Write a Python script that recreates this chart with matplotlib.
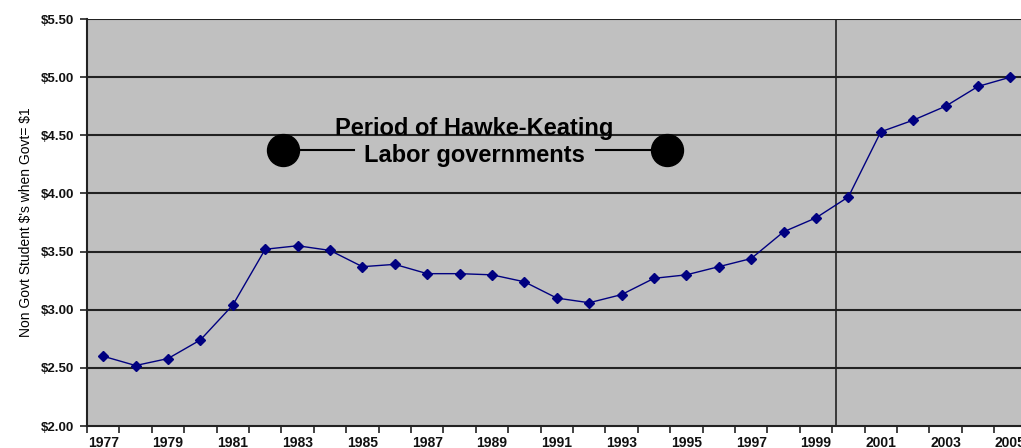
import numpy as np
import matplotlib.pyplot as plt
from matplotlib import font_manager

years = list(range(1977, 2006))
values = [2.60, 2.52, 2.58, 2.74, 3.04, 3.52, 3.55, 3.51, 3.37, 3.39,
          3.31, 3.31, 3.30, 3.24, 3.10, 3.06, 3.13, 3.27, 3.30, 3.37,
          3.44, 3.67, 3.79, 3.97, 4.53, 4.63, 4.75, 4.92, 5.00]
yticks = [2.00, 2.50, 3.00, 3.50, 4.00, 4.50, 5.00, 5.50]

names = {f.name for f in font_manager.fontManager.ttflist}
narrow = 'Liberation Sans Narrow' if 'Liberation Sans Narrow' in names else 'Liberation Sans'

fig = plt.figure(figsize=(10.21, 4.48), dpi=100)
ax = fig.add_axes([87/1021, 22/448, 939.6/1021, 407/448])
ax.set_facecolor('#c0c0c0')

x = np.arange(len(years))
for v in yticks[1:]:
    ax.axhline(v, color='#222222', lw=1.5, zorder=1)
ax.axvline(22.62, color='#222222', lw=1.2, zorder=1)

ax.plot(x, values, color='#000080', lw=1.0, marker='D', markersize=5,
        markerfacecolor='#000080', markeredgecolor='#000080', zorder=3)

ax.set_xlim(-0.5, len(years) - 0.5)
ax.set_ylim(2.0, 5.5)

# ticks between categories, labels on every other category
ax.set_xticks(np.arange(-0.5, len(years), 1.0))
ax.set_xticklabels([])
ax.set_xticks(x[::2], minor=True)
ax.set_xticklabels([str(y) for y in years[::2]], minor=True,
                   fontsize=10, fontweight='bold', family='Liberation Sans', color='#111111')
ax.tick_params(axis='x', which='major', length=5, width=1.2, direction='out', color='#222222')
ax.tick_params(axis='x', which='minor', length=0, pad=7)

ax.set_yticks(yticks)
ax.set_yticklabels(['$%.2f' % v for v in yticks], fontsize=9.5, fontweight='bold',
                   family='Liberation Sans', color='#111111')
ax.tick_params(axis='y', length=5, width=1.2, direction='out', color='#222222', pad=4)

ax.set_ylabel("Non Govt Student \\$'s when Govt= \\$1", family=narrow, fontsize=10, labelpad=6)

for s in ['top', 'right']:
    ax.spines[s].set_visible(False)
for s in ['left', 'bottom']:
    ax.spines[s].set_color('#222222')
    ax.spines[s].set_linewidth(1.5)

# Hawke-Keating period annotation
ya = 4.374
ax.plot([5.55, 7.75], [ya, ya], color='black', lw=1.5, zorder=4)
ax.plot([15.2, 17.4], [ya, ya], color='black', lw=1.5, zorder=4)
ax.plot([5.55, 17.4], [ya, ya], 'o', color='black', markersize=23, zorder=5)
ax.text(11.45, 4.555, 'Period of Hawke-Keating', ha='center', va='center',
        fontsize=17, fontweight='bold', family='Liberation Sans', zorder=6)
ax.text(11.45, 4.325, 'Labor governments', ha='center', va='center',
        fontsize=17, fontweight='bold', family='Liberation Sans', zorder=6)

fig.savefig('out.png', dpi=100)
